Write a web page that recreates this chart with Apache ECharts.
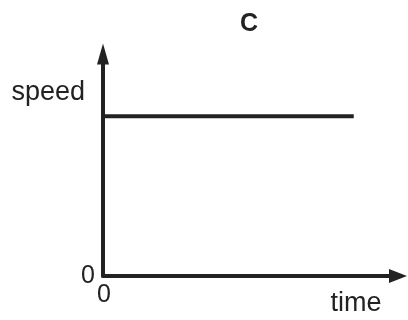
<!DOCTYPE html>
<html>
<head>
<meta charset="utf-8">
<style>
html,body{margin:0;padding:0;background:#fff;}
#chart{width:408px;height:320px;}
</style>
<script src="https://cdn.jsdelivr.net/npm/echarts@6/dist/echarts.min.js"></script>
</head>
<body>
<div id="chart"></div>
<script>
var chartTitle = 'C';
var xName = 'time';
var yName = 'speed';
var times = [0, 8.5];
var speeds = [7.2, 7.2];
var xTickLabels = ['0'];
var yTickLabels = ['0'];

var ink = '#222222';
var font = "'Liberation Sans', Arial, Helvetica, sans-serif";

var chart = echarts.init(document.getElementById('chart'), null, {renderer: 'canvas'});
var seriesData = times.map(function (t, i) { return [t, speeds[i]]; });

chart.setOption({
  animation: false,
  backgroundColor: '#ffffff',
  title: {
    text: chartTitle,
    left: 240,
    top: 12,
    padding: 0,
    textStyle: {fontFamily: font, fontWeight: 'bold', fontSize: 25, color: ink}
  },
  grid: {left: 103, right: 10, top: 54, bottom: 44, outerBoundsMode: 'none'},
  xAxis: {
    type: 'value',
    min: 0, max: 10, interval: 10,
    name: xName,
    nameLocation: 'end',
    nameGap: -42,
    nameTextStyle: {fontFamily: font, fontSize: 27, color: ink, align: 'center', verticalAlign: 'top', padding: [14, 0, 0, 0]},
    axisLine: {show: true, symbol: ['none', 'triangle'], symbolSize: [14, 18], lineStyle: {color: ink, width: 4}},
    axisTick: {show: false},
    splitLine: {show: false},
    axisLabel: {
      margin: 7, fontFamily: font, fontSize: 25, color: ink, padding: [0, 0, 0, 2],
      formatter: function (v) { return v === 0 ? xTickLabels[0] : ''; }
    }
  },
  yAxis: {
    type: 'value',
    min: 0, max: 10, interval: 10,
    name: yName,
    nameLocation: 'end',
    nameGap: -39,
    nameTextStyle: {fontFamily: font, fontSize: 27, color: ink, align: 'right', verticalAlign: 'middle', padding: [0, 18, 0, 0]},
    axisLine: {show: true, symbol: ['none', 'triangle'], symbolSize: [12, 21], lineStyle: {color: ink, width: 4}},
    axisTick: {show: false},
    splitLine: {show: false},
    axisLabel: {
      margin: 8, fontFamily: font, fontSize: 25, color: ink,
      formatter: function (v) { return v === 0 ? yTickLabels[0] : ''; }
    }
  },
  series: [{
    type: 'line',
    data: seriesData,
    symbol: 'none',
    lineStyle: {color: ink, width: 4, cap: 'butt'}
  }]
});
</script>
</body>
</html>
